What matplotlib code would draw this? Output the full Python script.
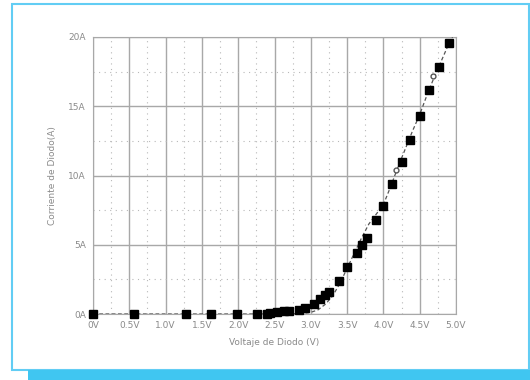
import numpy as np
import matplotlib
matplotlib.use('Agg')
import matplotlib.pyplot as plt
from matplotlib.patches import Rectangle
from matplotlib.ticker import MultipleLocator, FuncFormatter

# measured diode points (V, A)
volt_meas = [0.0, 0.56, 1.28, 1.62, 1.99, 2.26, 2.40, 2.44, 2.54, 2.63, 2.70,
             2.84, 2.92, 3.05, 3.12, 3.19, 3.25, 3.39, 3.50, 3.64, 3.70, 3.78,
             3.90, 3.99, 4.12, 4.25, 4.37, 4.50, 4.63, 4.77, 4.90]
curr_meas = [0.0, 0.0, 0.0, 0.0, 0.0, 0.0, 0.0, 0.05, 0.15, 0.2, 0.2,
             0.3, 0.4, 0.72, 1.08, 1.37, 1.56, 2.35, 3.39, 4.39, 5.0, 5.5,
             6.8, 7.8, 9.36, 10.97, 12.53, 14.29, 16.2, 17.8, 19.6]

# simulated diode curve
volt_sim = [0.0, 1.0, 2.0, 2.6, 2.8, 2.9, 3.0, 3.1, 3.2, 3.3, 3.4, 3.5,
            3.6, 3.7, 3.8, 3.9, 4.0, 4.1, 4.2, 4.3, 4.4, 4.5, 4.6, 4.7,
            4.8, 4.9, 4.97]
curr_sim = [0.0, 0.0, 0.0, 0.0, 0.02, 0.05, 0.12, 0.3, 0.7, 1.3, 2.2, 3.3,
            4.4, 5.5, 6.5, 7.2, 7.9, 9.2, 10.6, 11.9, 13.2, 14.4, 15.8, 17.1,
            18.3, 19.5, 20.2]
volt_probe = [4.17, 4.69]
curr_probe = [10.4, 17.2]

xticks = [0.0, 0.5, 1.0, 1.5, 2.0, 2.5, 3.0, 3.5, 4.0, 4.5, 5.0]
xlabels = ['0V', '0.5V', '1.0V', '1.5V', '2.0V', '2.5V', '3.0V', '3.5V',
           '4.0V', '4.5V', '5.0V']
yticks = [0, 5, 10, 15, 20]
ylabels = ['0A', '5A', '10A', '15A', '20A']

fig = plt.figure(figsize=(5.3, 3.8), dpi=100)

# light blue frame and bar along the bottom
fig.patches.append(Rectangle((11.5 / 530, 10.5 / 380), 517 / 530, 366 / 380,
                             transform=fig.transFigure, fill=False,
                             edgecolor='#62cdf4', linewidth=1.5))
fig.patches.append(Rectangle((28 / 530, 0), 1 - 28 / 530, 10 / 380,
                             transform=fig.transFigure, facecolor='#40c6f1',
                             edgecolor='none'))

ax = fig.add_axes([93 / 530, 66 / 380, 363 / 530, 277 / 380])
ax.set_xlim(0, 5.0)
ax.set_ylim(0, 20)

ax.xaxis.set_minor_locator(MultipleLocator(0.25))
ax.yaxis.set_minor_locator(MultipleLocator(2.5))
ax.grid(True, which='major', color='#a8a8a8', linewidth=1.0)
ax.grid(True, which='minor', color='#b8b8b8', linewidth=0.8,
        linestyle=(0, (1, 4)))
ax.set_axisbelow(True)

ax.plot(volt_sim, curr_sim, linestyle=(0, (3, 2)), color='#555555',
        linewidth=0.9, zorder=3)
ax.plot(volt_probe, curr_probe, linestyle='none', marker='o', markersize=3.5,
        markerfacecolor='white', markeredgecolor='#555555', zorder=4)
ax.plot(volt_meas, curr_meas, linestyle='none', marker='s', markersize=5.5,
        color='black', zorder=5, clip_on=False)

ax.set_xticks(xticks)
ax.set_xticklabels(xlabels)
ax.set_yticks(yticks)
ax.set_yticklabels(ylabels)
ax.tick_params(which='both', length=0, labelsize=6.5, labelcolor='#8a8a8a',
               pad=5)
for s in ax.spines.values():
    s.set_color('#a8a8a8')

ax.set_xlabel('Voltaje de Diodo (V)', fontsize=6.5, color='#8a8a8a',
              labelpad=6)
ax.set_ylabel('Corriente de Diodo(A)', fontsize=6.5, color='#8a8a8a',
              labelpad=8)

fig.savefig('out.png', dpi=100)
